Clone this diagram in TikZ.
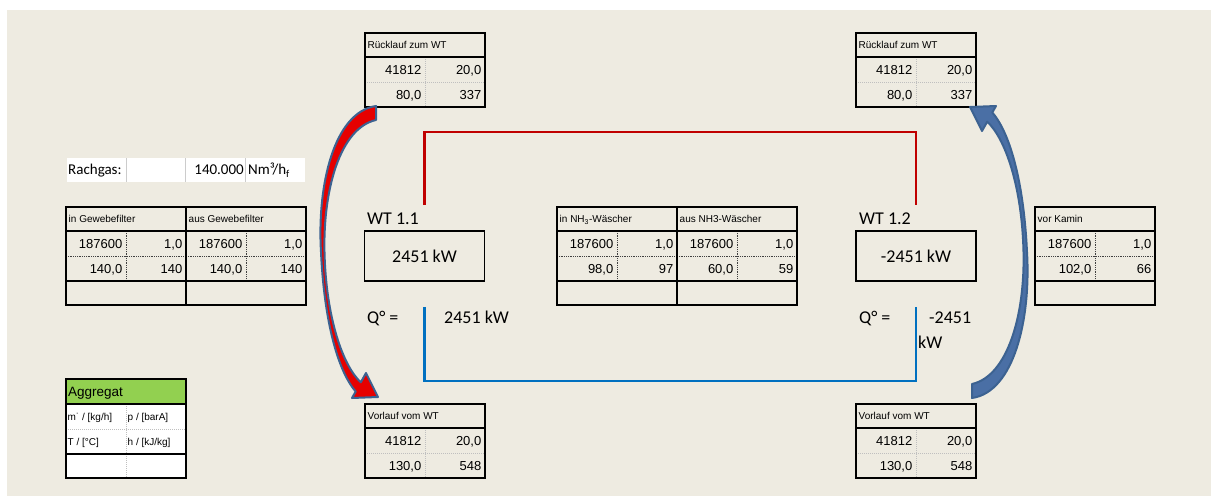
\documentclass[tikz,border=0pt]{standalone}
\usepackage{fontspec}
\setmainfont{Liberation Sans}
\newfontfamily\calib{Carlito}
\usetikzlibrary{calc}
\definecolor{paper}{HTML}{EEEBE1}
\definecolor{hotred}{HTML}{C00000}
\definecolor{coolblue}{HTML}{0070C0}
\definecolor{arrred}{HTML}{E60000}
\definecolor{arredge}{HTML}{3C6291}
\definecolor{arrblue}{HTML}{4A6FA5}
\definecolor{aggreen}{HTML}{92D050}
\tikzset{frame/.style={black,line width=1.6pt},
  sepline/.style={black!25,densely dotted,line width=1pt},
  hdr/.style={anchor=west,inner sep=0pt,text height=7.2pt,text depth=0pt,font=\fontsize{10}{12}\selectfont},
  num/.style={anchor=east,inner sep=0pt,text height=9.4pt,text depth=0pt,font=\fontsize{13}{15}\selectfont},
  wtbox/.style={draw,line width=1.6pt,minimum width=120pt,minimum height=50pt,inner sep=0pt,font=\calib\fontsize{18}{21}\selectfont},
  big/.style={anchor=west,inner sep=0pt,text height=11.6pt,text depth=0pt,font=\calib\fontsize{18}{21}\selectfont},
  gastext/.style={inner sep=0pt,text height=9.7pt,text depth=0pt,font=\calib\fontsize{15}{18}\selectfont},
  pipe/.style={line width=2.4pt}}
% small table: header + two data rows
\newcommand{\datatab}[8]{%
  \begin{scope}[shift={(#2,#3)}]
    \draw[sepline] (60,24) -- (60,74) (0,49) -- (120,49);
    \draw[frame] (0,0) rectangle (120,74) (0,24) -- (120,24);
    \node[hdr] (#1-h) at (2.5,12) {#4};
    \node[num] (#1-a) at (56.5,36.5) {#5};
    \node[num] (#1-b) at (116.5,36.5) {#6};
    \node[num] (#1-c) at (56.5,61.5) {#7};
    \node[num] (#1-d) at (116.5,61.5) {#8};
  \end{scope}}
% curved block arrow, tail at top, head at bottom
\newcommand{\bigarrow}[2]{%
  \filldraw[fill=#1,draw=#2,line width=2pt,line join=round]
    (376,106) .. controls (334,112) and (317,185) .. (321,252)
    .. controls (324,318) and (337,370) .. (355.7,391.5)
    -- (352,398) -- (378,397) -- (366,373) -- (360.8,382.3)
    .. controls (343,366) and (326,318) .. (324.5,252)
    .. controls (323,190) and (340,128) .. (376,120) -- cycle;}

\begin{document}
\begin{tikzpicture}[x=1pt,y=-1pt]
\useasboundingbox (0,0) rectangle (1211,496);
\fill[paper] (7,10) rectangle (1211,496);

% heat exchangers
\node[wtbox] (wt11) at (424.5,256) {2451 kW};
\node[wtbox] (wt12) at (916,256) {-2451 kW};
\node[big] (wt11lbl) at (367,219) {WT 1.1};
\node[big] (wt12lbl) at (859,219) {WT 1.2};
\node[big] (q11) at (367,318) {Q° =};
\node[big] (q11val) at (444,318) {2451 kW};
\node[big] (q12) at (859,318) {Q° =};
\node[big] (q12val) at (929,318) {-2451};
\node[big] (q12unit) at (918,343) {kW};
\draw[pipe,hotred] ([yshift=25pt]wt11.north) -- ++(0,-73) -| ([yshift=25pt]wt12.north);
\draw[pipe,coolblue] ([yshift=-25pt]wt11.south) -- ++(0,74) -| ([yshift=-25pt]wt12.south);

% circuit tables
\datatab{rl1}{365}{33}{Rücklauf zum WT}{41812}{20,0}{80,0}{337}
\datatab{rl2}{856}{33}{Rücklauf zum WT}{41812}{20,0}{80,0}{337}
\datatab{vl1}{365}{404}{Vorlauf vom WT}{41812}{20,0}{130,0}{548}
\datatab{vl2}{856}{404}{Vorlauf vom WT}{41812}{20,0}{130,0}{548}

% gas path tables
\begin{scope}[sepline/.style={black!75,densely dotted,line width=0.8pt}]
\datatab{gin}{66}{207}{in Gewebefilter}{187600}{1,0}{140,0}{140}
\datatab{gout}{186}{207}{aus Gewebefilter}{187600}{1,0}{140,0}{140}
\datatab{win}{557}{207}{in NH\textsubscript{3}-Wäscher}{187600}{1,0}{98,0}{97}
\datatab{wout}{677}{207}{aus NH3-Wäscher}{187600}{1,0}{60,0}{59}
\datatab{kam}{1035}{207}{vor Kamin}{187600}{1,0}{102,0}{66}
\end{scope}
\foreach \x in {66,186,557,677,1035} \draw[frame] (\x,281) rectangle ++(120,24);

% flue gas volume
\fill[white] (66.5,158) rectangle (305,182);
\draw[black!20] (126.5,158) -- (126.5,182) (185.5,158) -- (185.5,182) (245.5,158) -- (245.5,182);
\node[gastext,anchor=west] (gas) at (68,170) {Rachgas:};
\node[gastext,anchor=east] (gasval) at (244,170) {140.000};
\node[gastext,anchor=west] (gasunit) at (248,170) {Nm³/h\textsubscript{f}};

% legend
\fill[aggreen] (66,379) rectangle (186,404);
\fill[white] (66,404) rectangle (186,478);
\draw[sepline] (126,404) -- (126,478) (66,429) -- (186,429);
\draw[frame,line width=1.4pt] (66,379) rectangle (186,478) (66,404) -- (186,404) (66,454) -- (186,454);
\node[anchor=west,inner sep=0pt,text height=9.7pt,text depth=0pt,font=\fontsize{13.5}{16}\selectfont] (agg) at (68,391.5) {Aggregat};
\node[hdr] (aggm) at (67.5,416.5) {m˙ / [kg/h]};
\node[hdr] (aggp) at (127.5,416.5) {p / [barA]};
\node[hdr] (aggt) at (67.5,441.5) {T / [°C]};
\node[hdr] (aggh) at (127.5,441.5) {h / [kJ/kg]};

% flow arrows
\bigarrow{arrred}{arredge}
\begin{scope}[rotate around={180:(674,252)}]
\bigarrow{arrblue}{arredge}
\end{scope}
\end{tikzpicture}
\end{document}
